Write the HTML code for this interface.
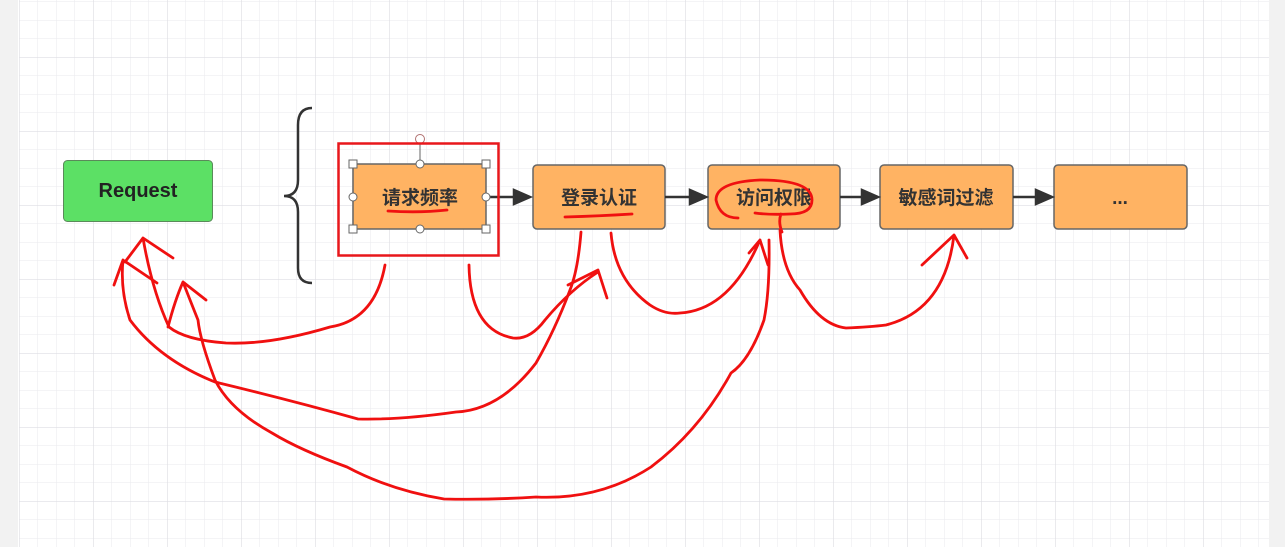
<!DOCTYPE html>
<html><head><meta charset="utf-8"><style>
body{margin:0;width:1285px;height:547px;overflow:hidden;background:#fff;font-family:"Liberation Sans","Noto Sans CJK SC",sans-serif}
</style></head><body>
<svg width="1285" height="547" xmlns="http://www.w3.org/2000/svg">
<defs>
<pattern id="minor" x="19" y="57" width="18.5" height="18.5" patternUnits="userSpaceOnUse"><path d="M0 0V18.5M0 0H18.5" stroke="#eaeaee" stroke-width="1" fill="none"/></pattern>
<pattern id="major" x="19" y="57" width="74" height="74" patternUnits="userSpaceOnUse"><path d="M0 0V74M0 0H74" stroke="#dedee3" stroke-width="1.3" fill="none"/></pattern>
</defs>
<rect width="1285" height="547" fill="#fff"/>
<rect x="19" y="0" width="1250" height="547" fill="url(#minor)"/>
<rect x="19" y="0" width="1250" height="547" fill="url(#major)"/>
<rect x="0" y="0" width="18" height="547" fill="#f2f2f2"/>
<rect x="1269" y="0" width="16" height="547" fill="#f2f2f2"/>

<rect x="63.5" y="160.5" width="149" height="61" rx="4" fill="#5ce065" stroke="#5a8a5a"/>
<text x="138" y="197" text-anchor="middle" font-size="20" font-weight="bold" fill="#222">Request</text>

<path d="M312 108 Q298 108 298 125 V180 Q298 196 284 196 Q298 196 298 212 V268 Q298 283 312 283" fill="none" stroke="#333" stroke-width="2.5"/>

<g stroke="#666" stroke-width="1.5" fill="#ffb363">
<rect x="353" y="164" width="133" height="65" rx="2"/>
<rect x="533" y="165" width="132" height="64" rx="4"/>
<rect x="708" y="165" width="132" height="64" rx="4"/>
<rect x="880" y="165" width="133" height="64" rx="4"/>
<rect x="1054" y="165" width="133" height="64" rx="4"/>
</g>
<g stroke="#333" stroke-width="2.5" fill="#333">
<line x1="486" y1="197" x2="515" y2="197"/><path d="M530 197 L514 190 L514 204Z"/>
<line x1="665" y1="197" x2="690" y2="197"/><path d="M706 197 L690 190 L690 204Z"/>
<line x1="840" y1="197" x2="864" y2="197"/><path d="M878 197 L862 190 L862 204Z"/>
<line x1="1013" y1="197" x2="1037" y2="197"/><path d="M1052 197 L1036 190 L1036 204Z"/>
</g>
<g font-size="19" font-weight="bold" fill="#333" text-anchor="middle">
<text x="420" y="204">请求频率</text>
<text x="599" y="204">登录认证</text>
<text x="774" y="204">访问权限</text>
<text x="946" y="204">敏感词过滤</text>
<text x="1120" y="204">...</text>
</g>
<g stroke="#666" fill="#fff" stroke-width="1">
<line x1="420" y1="143" x2="420" y2="163"/>
<circle cx="420" cy="139" r="4.5" stroke="#b07070"/>
<rect x="349" y="160" width="8" height="8"/><rect x="482" y="160" width="8" height="8"/>
<rect x="349" y="225" width="8" height="8"/><rect x="482" y="225" width="8" height="8"/>
<circle cx="420" cy="164" r="4"/><circle cx="420" cy="229" r="4"/>
<circle cx="353" cy="197" r="4"/><circle cx="486" cy="197" r="4"/>
</g>
<rect x="338.5" y="143.5" width="160" height="112" fill="none" stroke="#e8171b" stroke-width="2.5"/>

<g fill="none" stroke="#f01010" stroke-width="2.8" stroke-linecap="round" stroke-linejoin="round">
<path d="M388 211 Q420 213 447 210"/>
<path d="M565 217 Q600 216 632 214"/>
<path d="M738 218 Q720 218 716 200 Q716 182 760 180 Q812 180 812 200 Q812 214 790 214 Q770 215 755 213 M781 214 Q778 222 782 232"/>
<path d="M385 265 Q375 320 330 327 Q270 345 226 343 Q185 340 169 327 Q152 290 143 238 M125 262 L143 238 L173 258"/>
<path d="M469 265 Q470 330 513 338 Q530 340 545 320 Q570 290 598 272 M568 285 L598 270 L607 298"/>
<path d="M581 232 Q578 270 570 290 Q555 330 536 363 Q500 410 456 412 Q400 420 358 419 Q290 400 215 382 Q160 360 130 320 Q120 290 123 260 M114 285 L123 260 L157 283"/>
<path d="M769 240 Q770 290 764 320 Q750 360 731 373 Q700 430 651 467 Q600 500 536 497 Q490 500 444 499 Q390 490 347 467 Q300 450 272 433 Q230 410 215 380 Q200 340 198 320 Q190 300 183 282 M168 327 Q175 300 183 282 L206 300"/>
<path d="M611 233 Q615 280 650 305 Q665 315 680 313 Q730 310 760 240 M749 253 L760 240 L768 265"/>
<path d="M780 230 Q782 270 800 290 Q820 325 846 328 Q870 327 886 325 Q945 310 954 235 M922 265 L954 235 L967 258"/>
</g>
</svg>
</body></html>
